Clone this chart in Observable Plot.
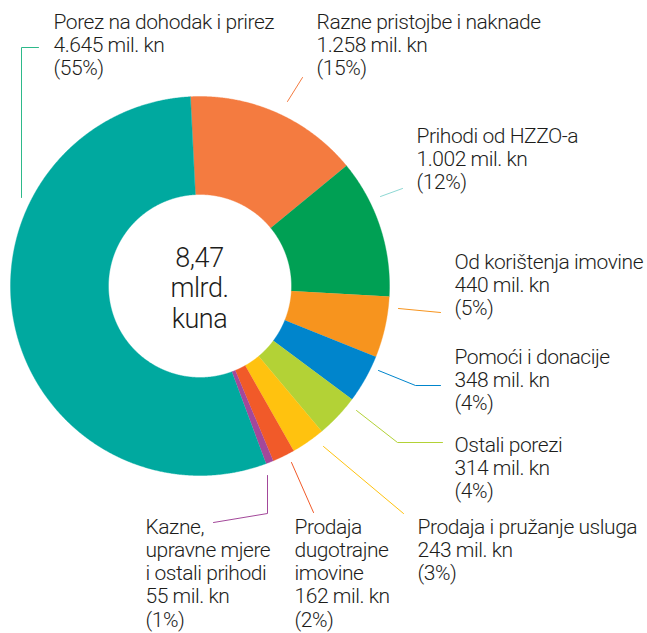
<!DOCTYPE html>
<html><head><meta charset="utf-8">
<script src="https://cdn.jsdelivr.net/npm/d3@7"></script>
<script src="https://cdn.jsdelivr.net/npm/@observablehq/plot@0.6"></script>
<style>
body{margin:0;background:#fff}
#chart svg{display:block}
#chart svg text{letter-spacing:-0.45px}
</style>
</head><body><div id="chart"></div>
<script>
// ---- data ----
const categories = ["Razne pristojbe i naknade","Prihodi od HZZO-a","Od korištenja imovine","Pomoći i donacije","Ostali porezi","Prodaja i pružanje usluga","Prodaja dugotrajne imovine","Kazne, upravne mjere i ostali prihodi","Porez na dohodak i prirez"];
const labelNames = ["Razne pristojbe i naknade","Prihodi od HZZO-a","Od korištenja imovine","Pomoći i donacije","Ostali porezi","Prodaja i pružanje usluga","Prodaja\ndugotrajne\nimovine","Kazne,\nupravne mjere\ni ostali prihodi","Porez na dohodak i prirez"];
const values = [1258, 1002, 440, 348, 314, 243, 162, 55, 4645]; // mil. kn
const unit = "mil. kn";
const centerUnit = ["mlrd.", "kuna"];

// ---- styles ----
const colors = ["#F47B40","#00A054","#F7941E","#0085CC","#B3D236","#FFC20F","#F15A29","#A3489A","#00A99F"];
const leaderColors = ["#F47B40","#8ED8D4","#F7941E","#0085CC","#B3D236","#FFC20F","#F15A29","#A3489A","#2DB98A"];

// ---- layout (pixels) ----
const W = 647, H = 633;
const CX = 199.5, CY = 285.5, R_OUT = 189.5, R_IN = 91.5;
const START = -2.9 * Math.PI / 180;
const labelPos = [[316,28],[416,142],[454,268],[454,363],[454,451],[417,533],[294,533],[145,533],[53,28]];
const leaderPts = [
  [[287,101],[302,77]],
  [[380,196],[402,188]],
  [[398,308],[440,312]],
  [[378,370],[415,385],[440,385]],
  [[356,410],[397,442],[442,442]],
  [[323,446],[403,513]],
  [[291,462],[313,512]],
  [[267,475],[267,513],[213,522]],
  [[21,197],[21,47],[38,47]]
];
const FS = 21, LH = 1.11, CFS = 27, CLH = 1.13;

// ---- build ----
const total = d3.sum(values);
const loc = d3.formatLocale({decimal: ",", thousands: ".", grouping: [3], currency: ["", ""]});
const fmtInt = loc.format(",d");
const fmt2 = loc.format(",.2f");

const arcs = d3.pie().sort(null).startAngle(START).endAngle(START + 2 * Math.PI)(values);
const pt = (r, a) => ({x: CX + r * Math.sin(a), y: CY - r * Math.cos(a)});
const slicePts = [];
arcs.forEach((a, i) => {
  const n = Math.max(2, Math.ceil((a.endAngle - a.startAngle) / 0.005));
  const outer = [], inner = [];
  for (let k = 0; k <= n; k++) {
    const t = a.startAngle + (a.endAngle - a.startAngle) * k / n;
    outer.push({...pt(R_OUT, t), cat: categories[i]});
    inner.push({...pt(R_IN, t), cat: categories[i]});
  }
  slicePts.push(...outer, ...inner.reverse());
});

const labels = categories.map((c, i) => ({
  x: labelPos[i][0],
  y: labelPos[i][1] - 0.71 * LH * FS,
  text: `${labelNames[i]}\n${fmtInt(values[i])} ${unit}\n(${Math.round(values[i] / total * 100)}%)`
}));
const centerText = [{x: CX - 0.5, y: 266 - 0.71 * CLH * CFS, text: `${fmt2(total / 1000)}\n${centerUnit.join("\n")}`}];

const marks = [
  Plot.line(slicePts, {x: "x", y: "y", z: "cat", fill: "cat", stroke: "cat", strokeWidth: 0.4, curve: "linear"}),
  ...leaderPts.map((p, i) => Plot.line(p, {x: d => d[0], y: d => d[1], stroke: leaderColors[i], strokeWidth: 1})),
  Plot.text(labels, {x: "x", y: "y", text: "text", textAnchor: "start", lineAnchor: "top", lineHeight: LH, fontSize: FS, fontWeight: 300, fill: "#1d1d1b"}),
  Plot.text(centerText, {x: "x", y: "y", text: "text", textAnchor: "middle", lineAnchor: "top", lineHeight: CLH, fontSize: CFS, fontWeight: 300, fill: "#1d1d1b"})
];

const chart = Plot.plot({
  width: W, height: H, margin: 0,
  style: {fontFamily: "Roboto, sans-serif", background: "#fff"},
  x: {domain: [0, W], range: [0, W], axis: null},
  y: {domain: [0, H], range: [0, H], axis: null},
  color: {domain: categories, range: colors},
  marks
});
document.getElementById("chart").append(chart);
</script>
</body></html>
